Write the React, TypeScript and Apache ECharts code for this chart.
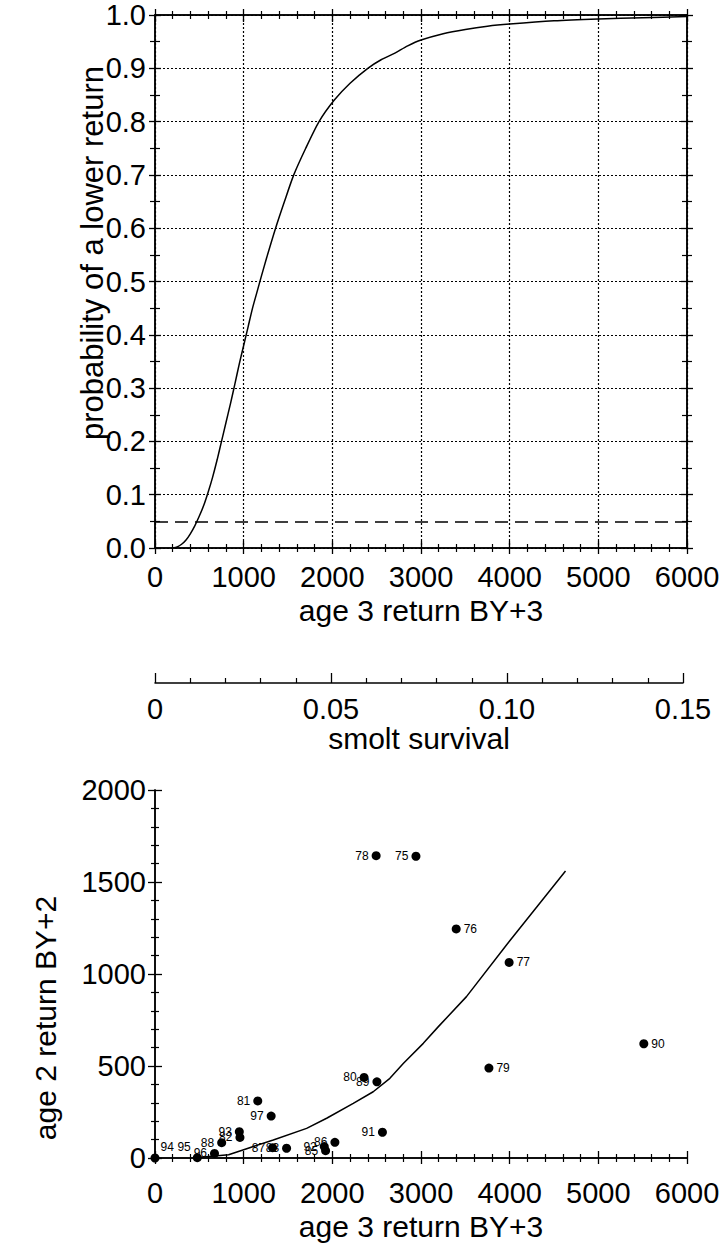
import React, { useEffect, useRef } from "react";
import * as echarts from "echarts";

// ---- top chart: cumulative probability curve ----
const curveReturn = [200, 250, 300, 350, 400, 450, 500, 550, 600, 650, 700, 750, 800, 850, 900, 950, 1000, 1050, 1100, 1150, 1200, 1260, 1360, 1460, 1565, 1700, 1850, 2020, 2200, 2400, 2550, 2700, 2850, 3000, 3250, 3500, 3750, 4000, 4500, 5000, 5500, 6000];
const curveProb = [0.0, 0.002, 0.007, 0.015, 0.027, 0.042, 0.06, 0.08, 0.105, 0.133, 0.165, 0.2, 0.235, 0.27, 0.307, 0.345, 0.38, 0.415, 0.45, 0.48, 0.51, 0.545, 0.6, 0.65, 0.7, 0.75, 0.8, 0.84, 0.872, 0.9, 0.916, 0.928, 0.942, 0.953, 0.965, 0.973, 0.979, 0.983, 0.989, 0.9925, 0.995, 0.997];
const thresholdProb = 0.05;

// ---- smolt survival scale ----
const smoltTicks = [0, 0.05, 0.1, 0.15];
const smoltTickLabels = ["0", "0.05", "0.10", "0.15"];

// ---- bottom chart: age 2 vs age 3 returns by brood year ----
const years = ["75", "76", "77", "78", "79", "80", "81", "82", "83", "85", "86", "87", "88", "89", "90", "91", "92", "93", "94", "95", "96", "97"];
const age3Return = [2943, 3397, 3994, 2494, 3766, 2358, 1159, 958, 1484, 1924, 2029, 1326, 752, 2503, 5513, 2565, 1909, 951, 0, 477, 671, 1310];
const age2Return = [1640, 1245, 1063, 1643, 489, 438, 310, 112, 53, 40, 85, 56, 83, 414, 621, 140, 62, 143, 0, 2, 25, 228];

const fitAge3 = [450, 830, 1000, 1334, 1710, 1936, 2236, 2461, 2649, 2800, 3026, 3196, 3513, 3964, 4630];
const fitAge2 = [2, 18, 45, 98, 161, 216, 297, 360, 433, 514, 623, 714, 877, 1158, 1560];

// label placement (style only)
const labelRight = new Set(["76", "77", "79", "90", "94"]);
const labelOffsets: Record<string, number[]> = { "94": [-2, -11], "95": [1, -11] };

const FONT = "'Liberation Sans', Arial, sans-serif";

export default function App() {
  const ref = useRef<HTMLDivElement>(null);
  useEffect(() => {
    if (!ref.current) return;
    const chart = echarts.init(ref.current, null, { renderer: "svg" });
    const black = "#000";
    const axisLine = { show: true, onZero: false, lineStyle: { color: black, width: 1.5 } };
    const txt = { color: black, fontFamily: FONT, fontSize: 29 };
    const plain = (v: number) => String(v);

    const mkX = (grid: number, pos: string, inside: boolean, extra: any = {}) => ({
      type: "value",
      gridIndex: grid,
      position: pos,
      min: 0,
      max: 6000,
      interval: 1000,
      axisLine,
      axisTick: { show: true, inside, length: inside ? 7 : 6, lineStyle: { color: black, width: 1.3 } },
      minorTick: { show: true, splitNumber: 5, length: 4, lineStyle: { color: black, width: 1.2 } },
      axisLabel: { show: false },
      splitLine: { show: false },
      ...extra,
    });
    const mkYTop = (grid: number, pos: string, inside: boolean, extra: any = {}) => ({
      type: "value",
      gridIndex: grid,
      position: pos,
      min: 0,
      max: 1,
      interval: 0.1,
      axisLine,
      axisTick: { show: true, inside, length: 6, lineStyle: { color: black, width: 1.3 } },
      minorTick: { show: true, splitNumber: 2, length: 5, lineStyle: { color: black, width: 1.2 } },
      axisLabel: { show: false },
      splitLine: { show: false },
      ...extra,
    });
    const mkYBot = (grid: number, inside: boolean, extra: any = {}) => ({
      type: "value",
      gridIndex: grid,
      position: "left",
      min: 0,
      max: 2000,
      interval: 500,
      axisLine,
      axisTick: { show: true, inside, length: 7, lineStyle: { color: black, width: 1.3 } },
      minorTick: { show: true, splitNumber: 5, length: 4, lineStyle: { color: black, width: 1.2 } },
      axisLabel: { show: false },
      splitLine: { show: false },
      ...extra,
    });
    const dotted = { show: true, lineStyle: { color: black, width: 1.2, type: [2, 2] } };

    const topRect = { left: 155, right: 37, top: 15, height: 533 };
    const botRect = { left: 155, right: 37, top: 790, height: 368 };

    const option: any = {
      animation: false,
      backgroundColor: "#fff",
      grid: [
        topRect,
        { left: 155, right: 41, top: 600, height: 83 },
        botRect,
        topRect,
        botRect,
      ],
      xAxis: [
        mkX(0, "bottom", true, {
          axisLabel: { show: true, margin: 14, ...txt, formatter: plain },
          splitLine: dotted,
          name: "age 3 return BY+3",
          nameLocation: "middle",
          nameGap: 47,
          nameTextStyle: { ...txt, fontSize: 30 },
        }),
        mkX(0, "top", true),
        {
          type: "value",
          gridIndex: 1,
          position: "bottom",
          min: 0,
          max: 0.15,
          interval: 0.05,
          axisLine,
          axisTick: { show: true, inside: true, length: 10, lineStyle: { color: black, width: 1.3 } },
          minorTick: { show: true, splitNumber: 5, length: 5, lineStyle: { color: black, width: 1.2 } },
          axisLabel: {
            show: true,
            margin: 11,
            ...txt,
            formatter: (v: number) => {
              const i = smoltTicks.findIndex((t) => Math.abs(t - v) < 1e-9);
              return i >= 0 ? smoltTickLabels[i] : "";
            },
          },
          splitLine: { show: false },
          name: "smolt survival",
          nameLocation: "middle",
          nameGap: 39,
          nameTextStyle: { ...txt, fontSize: 30 },
        },
        mkX(2, "bottom", true, {
          axisLabel: { show: true, margin: 20, ...txt, formatter: plain },
          name: "age 3 return BY+3",
          nameLocation: "middle",
          nameGap: 53,
          nameTextStyle: { ...txt, fontSize: 30 },
        }),
        mkX(3, "bottom", false),
        mkX(3, "top", false),
        mkX(4, "bottom", false),
      ],
      yAxis: [
        mkYTop(0, "left", true, {
          axisLabel: { show: true, margin: 9, ...txt, formatter: (v: number) => v.toFixed(1) },
          splitLine: dotted,
        }),
        mkYTop(0, "right", true),
        { type: "value", gridIndex: 1, min: 0, max: 1, show: false },
        mkYBot(2, true, { axisLabel: { show: true, margin: 9, ...txt, formatter: plain } }),
        mkYTop(3, "left", false),
        mkYTop(3, "right", false),
        mkYBot(4, false),
      ],
      graphic: [
        {
          type: "text",
          x: 92,
          y: 253,
          rotation: Math.PI / 2,
          style: {
            text: "probability of a lower return",
            fontSize: 31,
            fontFamily: FONT,
            fill: black,
            align: "center",
            verticalAlign: "middle",
          },
        },
        {
          type: "text",
          x: 45,
          y: 1018,
          rotation: Math.PI / 2,
          style: {
            text: "age 2 return BY+2",
            fontSize: 30,
            fontFamily: FONT,
            fill: black,
            align: "center",
            verticalAlign: "middle",
          },
        },
      ],
      series: [
        {
          type: "line",
          xAxisIndex: 0,
          yAxisIndex: 0,
          data: curveReturn.map((x, i) => [x, curveProb[i]]),
          smooth: 0.25,
          showSymbol: false,
          lineStyle: { color: black, width: 1.5 },
          markLine: {
            silent: true,
            symbol: "none",
            label: { show: false },
            lineStyle: { color: black, width: 1.5, type: [13, 7] },
            data: [{ yAxis: thresholdProb }],
          },
        },
        {
          type: "line",
          xAxisIndex: 3,
          yAxisIndex: 3,
          data: fitAge3.map((x, i) => [x, fitAge2[i]]),
          showSymbol: false,
          lineStyle: { color: black, width: 1.5 },
        },
        {
          type: "scatter",
          xAxisIndex: 3,
          yAxisIndex: 3,
          symbolSize: 9,
          itemStyle: { color: black, opacity: 1 },
          data: years.map((yr, i) => ({
            value: [age3Return[i], age2Return[i]],
            name: yr,
            label: {
              show: true,
              formatter: yr,
              position: labelRight.has(yr) ? "right" : "left",
              distance: 3,
              offset: labelOffsets[yr] || [0, 0],
              color: black,
              fontFamily: FONT,
              fontSize: 12,
              textBorderWidth: 0,
            },
          })),
        },
      ],
    };
    chart.setOption(option);
    return () => chart.dispose();
  }, []);
  return <div ref={ref} style={{ position: "absolute", left: 0, top: 0, width: 724, height: 1247 }} />;
}
